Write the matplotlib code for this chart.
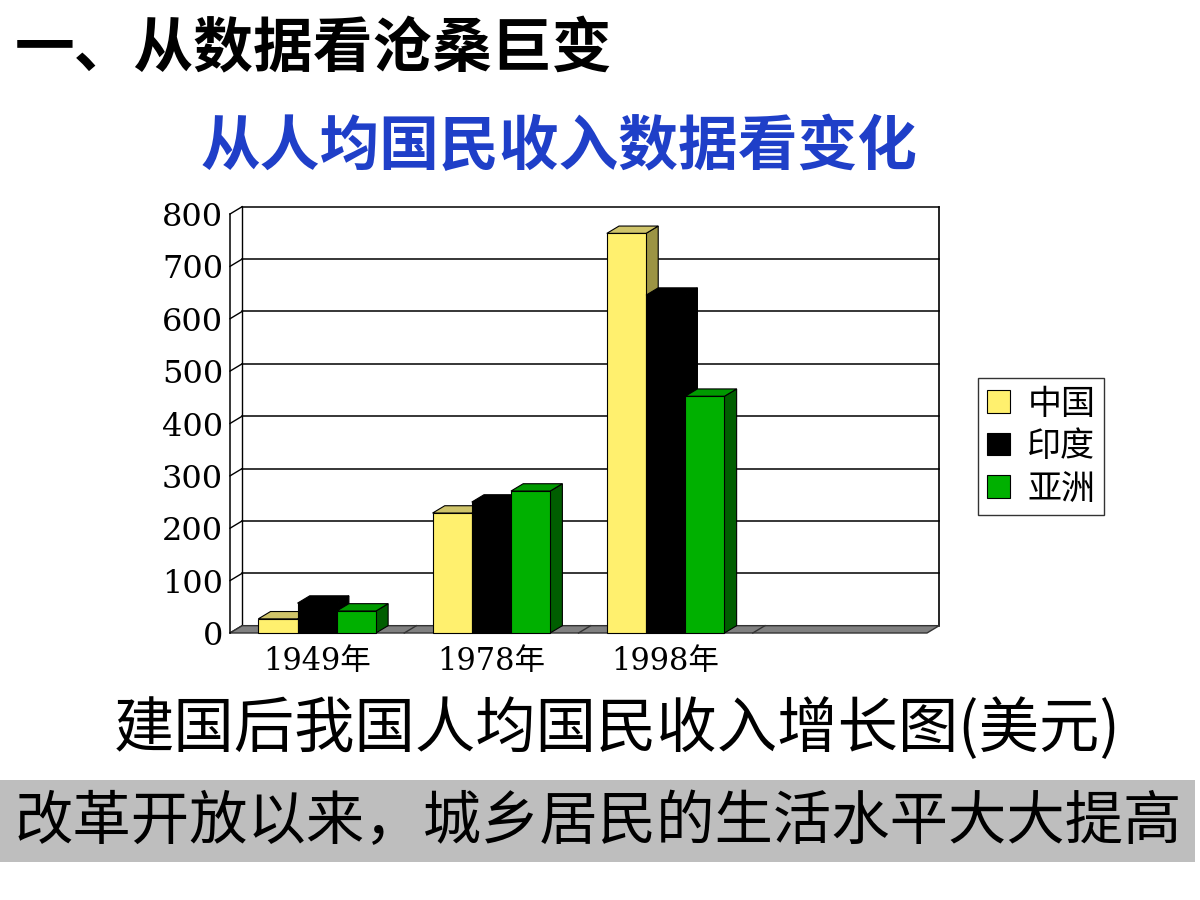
import numpy as np
import matplotlib
matplotlib.use("Agg")
import matplotlib.pyplot as plt
from matplotlib.patches import Polygon, Rectangle, Patch

plt.rcParams['font.family'] = ['Noto Sans CJK SC', 'DejaVu Sans']

# 数据 (美元)
years = ["1949年", "1978年", "1998年"]
series = ["中国", "印度", "亚洲"]
china = [27, 229, 763]
india = [57, 250, 645]
asia = [42, 271, 452]
yticks = [0, 100, 200, 300, 400, 500, 600, 700, 800]

front_cols = ["#FFF06E", "#000000", "#00B000"]
top_cols = ["#CFC46A", "#000000", "#009A00"]
side_cols = ["#9C9444", "#000000", "#005E00"]

DX, DY = 0.07, 14      # depth offset of the 3D look (data units)
bw = 0.225
n_slots = 4

fig = plt.figure(figsize=(12, 9), dpi=100)
ax = fig.add_axes([230 / 1200, 1 - 633 / 900, 697 / 1200, 419 / 900])
ax.set_xlim(0, n_slots)
ax.set_ylim(0, 800)

# back wall + grid
for v in yticks:
    if v > 0:
        ax.plot([DX, n_slots + DX], [v + DY, v + DY], color="black", lw=1.1, clip_on=False, zorder=1)
    ax.plot([0, DX], [v, v + DY], color="black", lw=1, clip_on=False, zorder=1)
ax.plot([DX, DX], [DY, 800 + DY], color="black", lw=1, clip_on=False, zorder=1)
ax.plot([n_slots + DX] * 2, [DY, 800 + DY], color="black", lw=1.2, clip_on=False, zorder=1)

# floor
floor = Polygon([[0, 0], [n_slots, 0], [n_slots + DX, DY], [DX, DY]],
                closed=True, facecolor="#808080", edgecolor="#333333", lw=1, clip_on=False, zorder=2)
ax.add_patch(floor)
for k in range(1, n_slots):
    ax.plot([k, k + DX], [0, DY], color="#333333", lw=1, clip_on=False, zorder=2)

# bars, painted left to right
data = [china, india, asia]
z = 3
for i in range(len(years)):
    c = i + 0.5
    for j, vals in enumerate(data):
        x0 = c + (j - 1) * bw - bw / 2
        x1 = x0 + bw
        h = vals[i]
        ax.add_patch(Polygon([[x1, 0], [x1 + DX, DY], [x1 + DX, h + DY], [x1, h]],
                             closed=True, facecolor=side_cols[j], edgecolor="black", lw=0.8,
                             clip_on=False, zorder=z))
        ax.add_patch(Polygon([[x0, h], [x1, h], [x1 + DX, h + DY], [x0 + DX, h + DY]],
                             closed=True, facecolor=top_cols[j], edgecolor="black", lw=0.8,
                             clip_on=False, zorder=z))
        ax.bar(x0, h, width=bw, align="edge", color=front_cols[j], edgecolor="black",
               lw=0.8, zorder=z + 0.5, clip_on=False)
        z += 1

for s in ["top", "right", "bottom"]:
    ax.spines[s].set_visible(False)
ax.spines["left"].set_linewidth(1.1)
ax.set_yticks(yticks)
ax.set_yticklabels([str(v) for v in yticks], fontsize=23, family=["DejaVu Serif"])
ax.tick_params(axis="y", length=0, pad=5)
ax.set_xticks([i + 0.5 for i in range(len(years))])
ax.set_xticklabels(years, fontsize=22, family=["DejaVu Serif", "Noto Sans CJK SC"])
ax.tick_params(axis="x", length=0, pad=9)
ax.set_facecolor("none")

# legend
handles = [Patch(facecolor=front_cols[j], edgecolor="black", lw=0.8) for j in range(3)]
fig.legend(handles, series, loc="upper left", bbox_to_anchor=(978 / 1200, 1 - 378 / 900),
           fontsize=24.5, frameon=True, fancybox=False, edgecolor="black",
           handlelength=0.7, handleheight=0.65, handletextpad=0.5, labelspacing=0.22,
           borderpad=0.25, borderaxespad=0)

# texts
fig.text(15 / 1200, 1 - 50 / 900, "一、从数据看沧桑巨变", fontsize=43, fontweight="bold",
         va="center", ha="left")
fig.text(559 / 1200, 1 - 148 / 900, "从人均国民收入数据看变化", fontsize=43, fontweight="bold",
         color="#1F3FC8", va="center", ha="center")
fig.text(617 / 1200, 1 - 730 / 900, "建国后我国人均国民收入增长图(美元)", fontsize=43.5,
         va="center", ha="center")
fig.patches.append(Rectangle((0, 1 - 862 / 900), 1195 / 1200, 82 / 900,
                             transform=fig.transFigure, facecolor="#BEBEBE", edgecolor="none"))
fig.text(598 / 1200, 1 - 823 / 900, "改革开放以来，城乡居民的生活水平大大提高", fontsize=42,
         fontweight="medium", va="center", ha="center")

fig.savefig("out.png", dpi=100)
